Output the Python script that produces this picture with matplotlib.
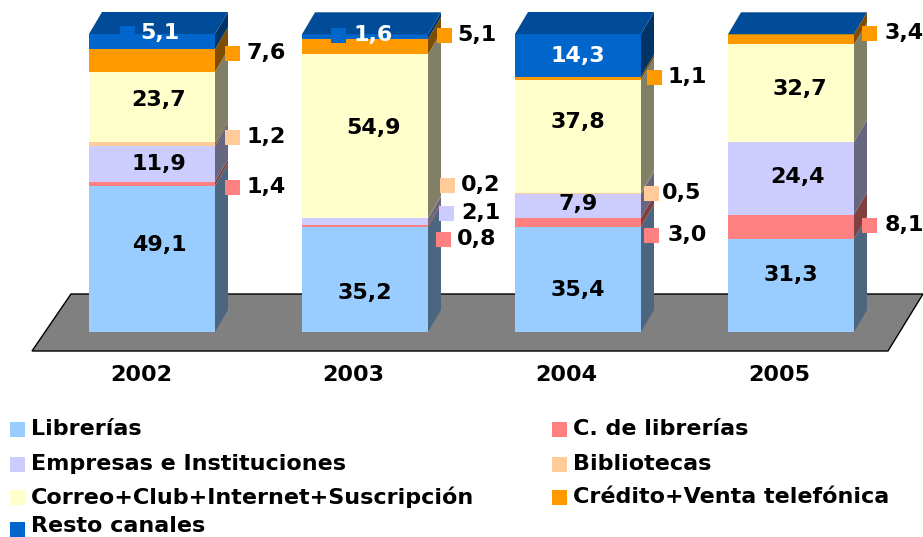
import matplotlib
matplotlib.use('Agg')
from matplotlib import pyplot as plt
from matplotlib.patches import Polygon, Rectangle
from matplotlib.transforms import Affine2D

years = ['2002', '2003', '2004', '2005']
series = ['Librerías', 'C. de librerías', 'Empresas e Instituciones', 'Bibliotecas',
          'Correo+Club+Internet+Suscripción', 'Crédito+Venta telefónica', 'Resto canales']
librerias = [49.1, 35.2, 35.4, 31.3]
c_librerias = [1.4, 0.8, 3.0, 8.1]
empresas = [11.9, 2.1, 7.9, 24.4]
bibliotecas = [1.2, 0.2, 0.5, 0.0]
correo = [23.7, 54.9, 37.8, 32.7]
credito = [7.6, 5.1, 1.1, 3.4]
resto = [5.1, 1.6, 14.3, 0.0]
values = [librerias, c_librerias, empresas, bibliotecas, correo, credito, resto]

front = ['#99CCFF', '#FF8080', '#CCCCFF', '#FFCC99', '#FFFFCC', '#FF9900', '#0066CC']
side = ['#4D6680', '#804040', '#666680', '#806650', '#808066', '#804D00', '#003366']
top_color = '#004C99'

W, H = 923, 537
fig = plt.figure(figsize=(W / 100, H / 100), dpi=100)
ax = fig.add_axes([0, 0, 1, 1])
# escala: x en categorias, y en porcentaje (100 = 298 px)
ax.set_xlim(-152 / 213, (W - 152) / 213)
ax.set_ylim((332 - H) / 2.98, 332 / 2.98)
ax.axis('off')

# coordenadas de pixel con origen arriba a la izquierda
px = Affine2D().scale(1, -1).translate(0, H)

half = 63 / 213
dx = 13 / 213
dy = 22 / 2.98

ax.add_patch(Polygon([(32, 351), (888, 351), (923, 294), (71, 294)], closed=True,
                     facecolor='#808080', edgecolor='black', lw=1, transform=px))

for i in range(len(years)):
    left, right = i - half, i + half
    bottom = 0
    for j in range(len(series)):
        v = values[j][i]
        if v > 0:
            ax.add_patch(Polygon([(right, bottom), (right + dx, bottom + dy),
                                  (right + dx, bottom + v + dy), (right, bottom + v)],
                                 closed=True, facecolor=side[j], edgecolor='none'))
            ax.add_patch(Rectangle((left, bottom), 2 * half, v, facecolor=front[j], edgecolor='none'))
        bottom += v
    ax.add_patch(Polygon([(left, bottom), (right, bottom), (right + dx, bottom + dy),
                          (left + dx, bottom + dy)], closed=True, facecolor=top_color, edgecolor='none'))

# etiquetas: (serie, anio): centro del texto en pixeles
inside = {
    (0, 0): (159, 245), (2, 0): (159, 164), (4, 0): (159, 100),
    (0, 1): (365, 293), (4, 1): (373, 128),
    (0, 2): (578, 290), (2, 2): (578, 204), (4, 2): (578, 122), (6, 2): (578, 56),
    (0, 3): (791, 275), (2, 3): (798, 177), (4, 3): (800, 89),
}
# (serie, anio): centro del texto, centro del cuadrado
outside = {
    (6, 0): ((160, 33), (127, 33)), (5, 0): ((266, 53), (232, 53)),
    (3, 0): ((266, 137), (232, 137)), (1, 0): ((266, 187), (232, 187)),
    (6, 1): ((373, 35), (338, 35)), (5, 1): ((477, 35), (444, 35)),
    (3, 1): ((481, 185), (447, 185)), (2, 1): ((481, 213), (446, 213)),
    (1, 1): ((477, 239), (443, 239)),
    (5, 2): ((687, 77), (654, 77)), (3, 2): ((682, 193), (651, 193)),
    (1, 2): ((687, 235), (651, 235)),
    (5, 3): ((904, 33), (869, 33)), (1, 3): ((904, 225), (869, 225)),
}


def fmt(v):
    return f'{v:.1f}'.replace('.', ',')


fs = 16
for (j, i), (x, y) in inside.items():
    color = 'white' if j == 6 else 'black'
    ax.text(x, y, fmt(values[j][i]), transform=px, ha='center', va='center',
            fontsize=fs, fontweight='bold', color=color)
for (j, i), ((x, y), (mx, my)) in outside.items():
    ax.add_patch(Rectangle((mx - 7.5, my - 7.5), 15, 15, facecolor=front[j], edgecolor='none', transform=px))
    color = 'white' if j == 6 else 'black'
    ax.text(x, y, fmt(values[j][i]), transform=px, ha='center', va='center',
            fontsize=fs, fontweight='bold', color=color)

for year, x in zip(years, [141, 353, 566, 779]):
    ax.text(x, 375, year, transform=px, ha='center', va='center', fontsize=fs, fontweight='bold')

# leyenda a mano, las filas no estan a la misma distancia
legend_pos = [(10, 429), (552, 429), (10, 464), (552, 464), (10, 497), (552, 497), (10, 529)]
for j, (x, y) in enumerate(legend_pos):
    ax.add_patch(Rectangle((x, y - 7.5), 15, 15, facecolor=front[j], edgecolor='none', transform=px))
    ax.text(x + 21, min(y, 525.5), series[j], transform=px, ha='left', va='center',
            fontsize=fs, fontweight='bold')

fig.savefig('out.png', dpi=100)
